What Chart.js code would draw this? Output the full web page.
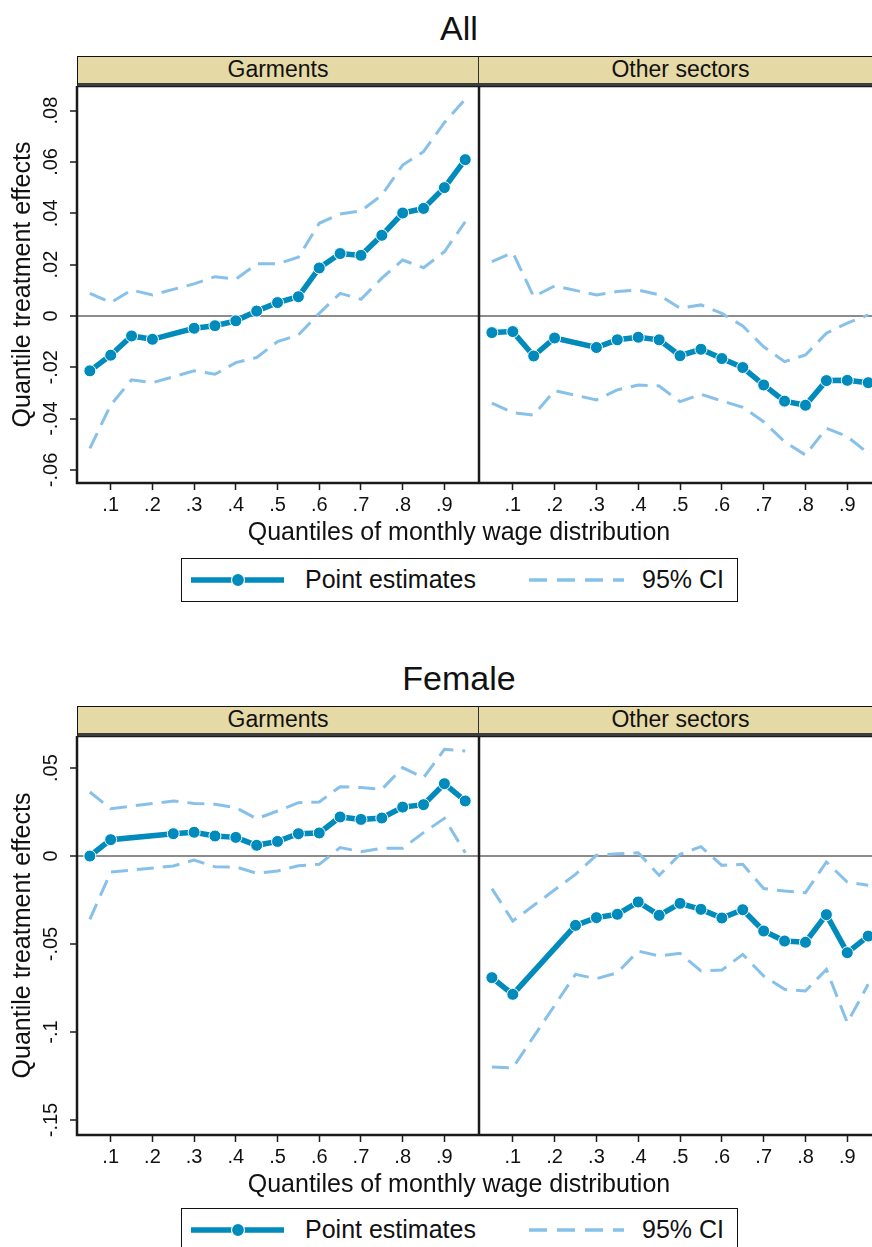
<!DOCTYPE html>
<html lang="en">
<head>
<meta charset="UTF-8">
<title>Quantile treatment effects</title>
<script src="https://cdn.jsdelivr.net/npm/chart.js@4.4.1/dist/chart.umd.min.js"></script>
<style>
  html, body { margin: 0; padding: 0; background: #fff; overflow: hidden; }
  body { position: relative; width: 872px; height: 1247px; font-family: "Liberation Sans", Arial, sans-serif; color: #111; }
  .fig { position: absolute; left: 0; width: 872px; height: 650px; overflow: hidden; }
  .title { position: absolute; left: 0; width: 918px; text-align: center; font-size: 34px; line-height: 34px; top: 10.5px; }
  .strip { position: absolute; top: 56px; height: 30px; box-sizing: border-box; background: #e5d9a6;
           border-top: 1.5px solid #111; border-bottom: 3px solid #3d3d3d; text-align: center;
           font-size: 23px; line-height: 25px; }
  .strip.left { left: 77px; width: 402px; border-left: 1.5px solid #111; border-right: 1.5px solid #333; }
  .strip.right { left: 479px; width: 403px; }
  .panel { position: absolute; top: 86px; }
  .xtitle { position: absolute; left: 0; width: 918px; text-align: center; font-size: 25px; line-height: 25px; top: 519px; }
  .legend { position: absolute; left: 181px; top: 558px; width: 557px; height: 44px; box-sizing: border-box;
            border: 1.5px solid #111; font-size: 25px; }
  .legend svg { position: absolute; top: 0; left: 0; }
  .legend span { position: absolute; top: 8px; line-height: 25px; white-space: nowrap; }
</style>
</head>
<body>

<div class="fig" id="figAll" style="top:0px">
  <div class="title">All</div>
  <div class="strip left">Garments</div>
  <div class="strip right">Other sectors</div>
  <div class="panel" style="left:0;width:479px;height:437px"><canvas id="allGar"></canvas></div>
  <div class="panel" style="left:479px;width:403px;height:437px"><canvas id="allOth"></canvas></div>
  <div class="xtitle">Quantiles of monthly wage distribution</div>
  <div class="legend">
    <svg width="557" height="44">
      <line x1="9" y1="21" x2="102" y2="21" stroke="#008bbc" stroke-width="5.5"/>
      <circle cx="56" cy="21" r="6.5" fill="#008bbc" stroke="#fff" stroke-width="1.2"/>
      <line x1="347" y1="21" x2="442" y2="21" stroke="#87c1ea" stroke-width="3.5" stroke-dasharray="18 10"/>
    </svg>
    <span style="left:123px">Point estimates</span>
    <span style="left:460px">95% CI</span>
  </div>
</div>

<div class="fig" id="figFem" style="top:650px">
  <div class="title">Female</div>
  <div class="strip left">Garments</div>
  <div class="strip right">Other sectors</div>
  <div class="panel" style="left:0;width:479px;height:439px"><canvas id="femGar"></canvas></div>
  <div class="panel" style="left:479px;width:403px;height:439px"><canvas id="femOth"></canvas></div>
  <div class="xtitle" style="top:521px">Quantiles of monthly wage distribution</div>
  <div class="legend">
    <svg width="557" height="44">
      <line x1="9" y1="21" x2="102" y2="21" stroke="#008bbc" stroke-width="5.5"/>
      <circle cx="56" cy="21" r="6.5" fill="#008bbc" stroke="#fff" stroke-width="1.2"/>
      <line x1="347" y1="21" x2="442" y2="21" stroke="#87c1ea" stroke-width="3.5" stroke-dasharray="18 10"/>
    </svg>
    <span style="left:123px">Point estimates</span>
    <span style="left:460px">95% CI</span>
  </div>
</div>

<script>
// quantiles at which effects are estimated
const quantiles = [0.05, 0.10, 0.15, 0.20, 0.25, 0.30, 0.35, 0.40, 0.45, 0.50,
                   0.55, 0.60, 0.65, 0.70, 0.75, 0.80, 0.85, 0.90, 0.95];

// All - Garments
const allGarPts = [-0.0214, -0.0153, -0.0078, -0.0091, null, -0.0048, -0.0038, -0.0019, 0.0019, 0.0052,
                   0.0075, 0.0187, 0.0243, 0.0236, 0.0314, 0.0401, 0.0419, 0.0500, 0.0609];
const allGarHi  = [0.0088, 0.0052, 0.0101, 0.0082, null, 0.0125, 0.0153, 0.0143, 0.0203, 0.0203,
                   0.0229, 0.0361, 0.0397, 0.0409, 0.0471, 0.0588, 0.0640, 0.0753, 0.0844];
const allGarLo  = [-0.0516, -0.0347, -0.0249, -0.0260, null, -0.0214, -0.0227, -0.0182, -0.0162, -0.0100,
                   -0.0074, 0.0010, 0.0088, 0.0065, 0.0147, 0.0218, 0.0188, 0.0250, 0.0367];

// All - Other sectors
const allOthPts = [-0.0065, -0.0061, -0.0156, -0.0086, null, -0.0123, -0.0093, -0.0083, -0.0093, -0.0155,
                   -0.0130, -0.0166, -0.0201, -0.0269, -0.0332, -0.0348, -0.0252, -0.0251, -0.0260];
const allOthHi  = [0.0212, 0.0247, 0.0075, 0.0117, null, 0.0082, 0.0095, 0.0101, 0.0082, 0.0030,
                   0.0043, 0.0010, -0.0039, -0.0120, -0.0178, -0.0152, -0.0067, -0.0028, 0.0004];
const allOthLo  = [-0.0340, -0.0377, -0.0386, -0.0291, null, -0.0327, -0.0288, -0.0269, -0.0273, -0.0334,
                   -0.0305, -0.0331, -0.0356, -0.0412, -0.0490, -0.0542, -0.0438, -0.0470, -0.0535];

// Female - Garments
const femGarPts = [0.0000, 0.0093, null, null, 0.0127, 0.0135, 0.0114, 0.0106, 0.0061, 0.0083,
                   0.0127, 0.0131, 0.0222, 0.0208, 0.0216, 0.0278, 0.0292, 0.0411, 0.0313];
const femGarHi  = [0.0364, 0.0269, null, null, 0.0313, 0.0299, 0.0294, 0.0275, 0.0212, 0.0256,
                   0.0303, 0.0307, 0.0394, 0.0389, 0.0379, 0.0502, 0.0445, 0.0606, 0.0597];
const femGarLo  = [-0.0360, -0.0091, null, null, -0.0057, -0.0023, -0.0061, -0.0062, -0.0098, -0.0085,
                   -0.0055, -0.0047, 0.0048, 0.0025, 0.0044, 0.0044, 0.0133, 0.0214, 0.0019];

// Female - Other sectors
const femOthPts = [-0.0691, -0.0786, null, null, -0.0394, -0.0350, -0.0331, -0.0261, -0.0337, -0.0269,
                   -0.0303, -0.0352, -0.0305, -0.0426, -0.0483, -0.0490, -0.0333, -0.0549, -0.0455];
const femOthHi  = [-0.0185, -0.0369, null, null, -0.0104, 0.0004, 0.0013, 0.0019, -0.0110, 0.0010,
                   0.0053, -0.0053, -0.0047, -0.0185, -0.0199, -0.0208, -0.0034, -0.0148, -0.0166];
const femOthLo  = [-0.1199, -0.1203, null, null, -0.0672, -0.0697, -0.0663, -0.0540, -0.0568, -0.0553,
                   -0.0653, -0.0648, -0.0559, -0.0682, -0.0757, -0.0767, -0.0644, -0.0947, -0.0729];

// tick values and labels
const xTickValues = [0.1, 0.2, 0.3, 0.4, 0.5, 0.6, 0.7, 0.8, 0.9];
const xTickLabels = ['.1', '.2', '.3', '.4', '.5', '.6', '.7', '.8', '.9'];
const allYTickValues = [-0.06, -0.04, -0.02, 0, 0.02, 0.04, 0.06, 0.08];
const allYTickLabels = ['-.06', '-.04', '-.02', '0', '.02', '.04', '.06', '.08'];
const femYTickValues = [-0.15, -0.10, -0.05, 0, 0.05];
const femYTickLabels = ['-.15', '-.1', '-.05', '0', '.05'];

const mainColor = '#008bbc';
const ciColor = '#87c1ea';
const zeroColor = '#8c8c8c';
const inkColor = '#1a1a1a';

const toXY = arr => quantiles.map((q, i) => ({x: q, y: arr[i]}));

// draws the box around each panel
const framePlugin = {
  id: 'frame',
  afterDatasetsDraw(chart) {
    const {ctx, chartArea: a} = chart;
    ctx.save();
    ctx.strokeStyle = inkColor;
    ctx.lineWidth = 2.5;
    ctx.strokeRect(a.left, a.top, a.right - a.left, a.bottom - a.top);
    ctx.restore();
  }
};

function makePanel(id, pts, hi, lo, yMin, yMax, yTicks, yLabels, showY) {
  const ciStyle = {borderColor: ciColor, borderWidth: 3, borderDash: [17, 9], pointRadius: 0,
                   fill: false, spanGaps: true, tension: 0};
  return new Chart(document.getElementById(id), {
    type: 'line',
    data: {
      datasets: [
        {label: 'Point estimates', data: toXY(pts), borderColor: mainColor, borderWidth: 5.5,
         pointRadius: 6, pointBackgroundColor: mainColor, pointBorderColor: '#fff', pointBorderWidth: 1,
         spanGaps: true, tension: 0},
        Object.assign({label: '95% CI', data: toXY(hi)}, ciStyle),
        Object.assign({label: '95% CI', data: toXY(lo)}, ciStyle)
      ]
    },
    options: {
      responsive: true,
      maintainAspectRatio: false,
      animation: false,
      devicePixelRatio: 1,
      layout: {padding: 0, autoPadding: false},
      plugins: {legend: {display: false}, tooltip: {enabled: false}},
      scales: {
        x: {
          type: 'linear',
          min: 0.0192,
          max: 0.983,
          afterBuildTicks: s => { s.ticks = xTickValues.map(v => ({value: v})); },
          afterFit: s => { s.height = 40; s.paddingLeft = 0; s.paddingRight = 0; },
          border: {display: false},
          grid: {drawOnChartArea: false, tickLength: 7, tickColor: inkColor, tickWidth: 1.5},
          ticks: {autoSkip: false, maxRotation: 0, padding: 3, color: '#111',
                  font: {family: '"Liberation Sans", Arial, sans-serif', size: 20},
                  callback: (v, i) => xTickLabels[i]}
        },
        y: {
          type: 'linear',
          min: yMin,
          max: yMax,
          afterBuildTicks: s => { s.ticks = yTicks.map(v => ({value: v})); },
          afterFit: s => { s.width = showY ? 77 : 0; s.paddingTop = 0; s.paddingBottom = 0; },
          border: {display: false},
          grid: {
            color: c => (c.tick && c.tick.value === 0) ? zeroColor : 'rgba(0,0,0,0)',
            lineWidth: 2,
            drawTicks: showY,
            tickLength: 7,
            tickColor: inkColor,
            tickWidth: 1.5
          },
          ticks: {display: showY, autoSkip: false, minRotation: 90, maxRotation: 90, crossAlign: 'center',
                  padding: 1, color: '#111',
                  font: {family: '"Liberation Sans", Arial, sans-serif', size: 20},
                  callback: (v, i) => yLabels[i]},
          title: {display: showY, text: 'Quantile treatment effects', color: '#111',
                  font: {family: '"Liberation Sans", Arial, sans-serif', size: 25},
                  padding: {top: 8, bottom: 0}}
        }
      }
    },
    plugins: [framePlugin]
  });
}

makePanel('allGar', allGarPts, allGarHi, allGarLo, -0.0651, 0.0896, allYTickValues, allYTickLabels, true);
makePanel('allOth', allOthPts, allOthHi, allOthLo, -0.0651, 0.0896, allYTickValues, allYTickLabels, false);
makePanel('femGar', femGarPts, femGarHi, femGarLo, -0.1585, 0.0682, femYTickValues, femYTickLabels, true);
makePanel('femOth', femOthPts, femOthHi, femOthLo, -0.1585, 0.0682, femYTickValues, femYTickLabels, false);
</script>
</body>
</html>
